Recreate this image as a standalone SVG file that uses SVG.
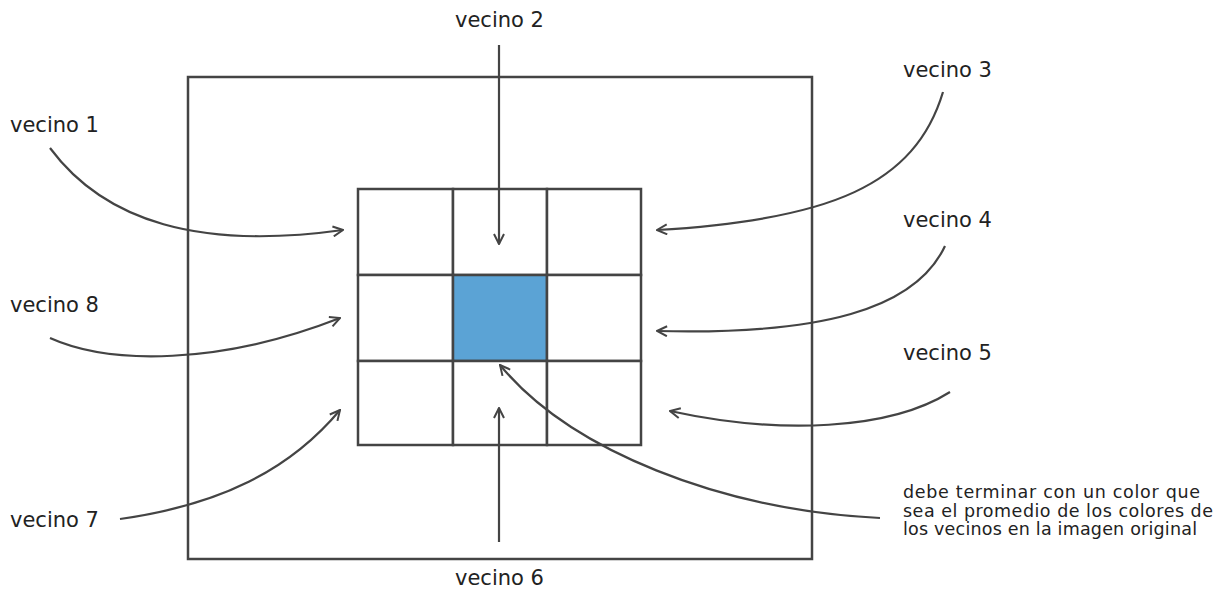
<svg xmlns="http://www.w3.org/2000/svg" width="1226" height="614" viewBox="0 0 1226 614">
<style>
.lbl{font-family:"DejaVu Sans","Liberation Sans",sans-serif;font-size:21px;fill:#222}
.note{font-family:"DejaVu Sans","Liberation Sans",sans-serif;font-size:17.5px;fill:#222}
.box{fill:none;stroke:#444;stroke-width:2.5}
.cell{fill:#fff;stroke:#444;stroke-width:2.5}
.conn{fill:none;stroke:#444;stroke-width:2.2;marker-end:url(#arr)}
</style>
<defs>
<marker id="arr" viewBox="0 0 12 12" refX="11" refY="6" markerWidth="12" markerHeight="12" markerUnits="userSpaceOnUse" orient="auto">
<path d="M1,1 L11,6 L1,11" fill="none" stroke="#444" stroke-width="2"/>
</marker>
</defs>
<rect width="1226" height="614" fill="#fff"/>
<g id="frame"><rect class="box" x="188" y="77" width="624" height="482"/></g>
<g id="grid">
<rect class="cell" x="358" y="189" width="95" height="86"/>
<rect class="cell" x="453" y="189" width="94" height="86"/>
<rect class="cell" x="547" y="189" width="94" height="86"/>
<rect class="cell" x="358" y="275" width="95" height="86"/>
<rect id="center" x="453" y="275" width="94" height="86" fill="#5ba3d5" stroke="#444" stroke-width="2.5"/>
<rect class="cell" x="547" y="275" width="94" height="86"/>
<rect class="cell" x="358" y="361" width="95" height="84"/>
<rect class="cell" x="453" y="361" width="94" height="84"/>
<rect class="cell" x="547" y="361" width="94" height="84"/>
</g>
<g id="connectors">
<path class="conn" d="M499,45 L499,244"/>
<path class="conn" d="M499,542 L499,408"/>
<path class="conn" d="M50,148 C105,222 200,250 343,230"/>
<path class="conn" d="M50,338 C110,365 220,365 340,318"/>
<path class="conn" d="M120,519 C220,505 290,470 340,410"/>
<path class="conn" d="M943,92 C915,185 830,220 657,230"/>
<path class="conn" d="M945,246 C915,310 820,335 657,331"/>
<path class="conn" d="M950,392 C890,430 780,435 670,411"/>
<path class="conn" d="M880,518 C720,510 570,450 500,365"/>
</g>
<g id="vecino1"><text class="lbl" x="10" y="132">vecino 1</text></g>
<g id="vecino2"><text class="lbl" x="455" y="27">vecino 2</text></g>
<g id="vecino3"><text class="lbl" x="903" y="77">vecino 3</text></g>
<g id="vecino4"><text class="lbl" x="903" y="227">vecino 4</text></g>
<g id="vecino5"><text class="lbl" x="903" y="360">vecino 5</text></g>
<g id="vecino6"><text class="lbl" x="455" y="585">vecino 6</text></g>
<g id="vecino7"><text class="lbl" x="10" y="527">vecino 7</text></g>
<g id="vecino8"><text class="lbl" x="10" y="312">vecino 8</text></g>
<g id="note">
<text class="note" x="903" y="498" textLength="297" lengthAdjust="spacing">debe terminar con un color que</text>
<text class="note" x="903" y="517" textLength="310" lengthAdjust="spacing">sea el promedio de los colores de</text>
<text class="note" x="903" y="535" textLength="294" lengthAdjust="spacing">los vecinos en la imagen original</text>
</g>
</svg>
